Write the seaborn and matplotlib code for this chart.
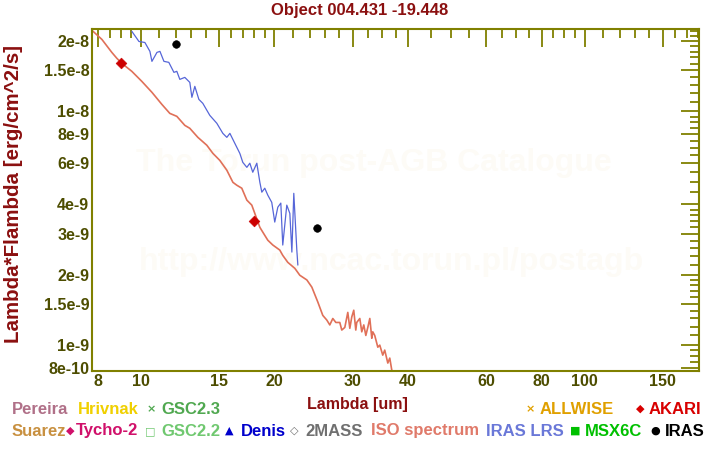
import matplotlib
matplotlib.use('Agg')
import matplotlib.pyplot as plt
import seaborn as sns
import pandas as pd

# ISO spectrum (um, erg/cm^2/s)
iso_wave = [7.76, 8.17, 8.60, 8.83, 9.06, 9.54, 10.05, 10.59, 11.15, 11.62, 12.05, 12.56,
            12.89, 13.44, 14.08, 14.53, 15.06, 15.62, 16.12, 16.45, 16.88, 17.33, 17.78,
            18.06, 18.54, 18.83, 19.32, 19.83, 20.56, 20.88, 21.43, 22.23, 22.81, 23.66,
            24.28, 25.04, 25.70, 26.24, 26.65, 27.07, 27.50, 28.07, 28.36, 28.81, 29.26,
            29.57, 29.87, 30.18, 30.50, 30.65, 31.14, 31.46, 31.79, 32.13, 32.46, 32.80,
            33.14, 33.31, 33.65, 34.19, 34.54, 35.08, 35.44, 36.01, 36.38, 36.76, 37.2]
iso_flux = [2.22e-8, 2.03e-8, 1.787e-8, 1.685e-8, 1.604e-8, 1.483e-8, 1.343e-8, 1.206e-8,
            1.071e-8, 9.80e-9, 9.52e-9, 8.71e-9, 8.46e-9, 7.74e-9, 7.16e-9, 6.61e-9, 6.17e-9,
            5.60e-9, 4.97e-9, 4.83e-9, 4.69e-9, 4.17e-9, 3.97e-9, 3.66e-9, 3.19e-9, 3.04e-9,
            2.81e-9, 2.68e-9, 2.55e-9, 2.42e-9, 2.26e-9, 2.13e-9, 1.99e-9, 1.90e-9, 1.77e-9,
            1.53e-9, 1.34e-9, 1.28e-9, 1.22e-9, 1.30e-9, 1.25e-9, 1.25e-9, 1.16e-9, 1.19e-9,
            1.38e-9, 1.18e-9, 1.32e-9, 1.41e-9, 1.16e-9, 1.25e-9, 1.30e-9, 1.14e-9, 1.22e-9,
            1.10e-9, 1.19e-9, 1.30e-9, 1.07e-9, 1.14e-9, 1.10e-9, 0.98e-9, 1.00e-9, 0.906e-9,
            0.952e-9, 0.838e-9, 0.880e-9, 0.782e-9, 0.76e-9]

# IRAS LRS spectrum
lrs_wave = [9.54, 9.90, 10.21, 10.48, 10.59, 10.87, 11.04, 11.27, 11.56, 11.87, 12.05, 12.24,
            12.56, 12.89, 13.03, 13.23, 13.51, 13.79, 14.30, 14.83, 15.30, 15.62, 15.87, 16.28,
            16.71, 16.97, 17.33, 17.60, 17.87, 18.25, 18.54, 18.73, 19.02, 19.32, 19.72, 20.03,
            20.35, 20.67, 20.88, 21.32, 21.66, 21.89, 22.11, 22.46, 22.58]
lrs_flux = [2.20e-8, 1.99e-8, 1.97e-8, 1.805e-8, 1.636e-8, 1.787e-8, 1.805e-8, 1.636e-8,
            1.620e-8, 1.468e-8, 1.483e-8, 1.370e-8, 1.397e-8, 1.330e-8, 1.148e-8, 1.279e-8,
            1.125e-8, 1.082e-8, 9.61e-9, 8.89e-9, 8.05e-9, 7.74e-9, 8.05e-9, 7.30e-9, 6.61e-9,
            6.05e-9, 5.76e-9, 6.00e-9, 5.49e-9, 6.00e-9, 4.97e-9, 4.51e-9, 4.69e-9, 4.38e-9,
            4.08e-9, 3.36e-9, 3.89e-9, 4.05e-9, 2.68e-9, 3.97e-9, 3.66e-9, 2.50e-9, 4.46e-9,
            2.55e-9, 2.20e-9]

akari_wave = [9.0, 18.0]
akari_flux = [1.61e-8, 3.41e-9]
iras_wave = [12.0, 25.0]
iras_flux = [1.94e-8, 3.18e-9]

xticks = [8, 10, 15, 20, 30, 40, 60, 80, 100, 150]
xtick_labels = ['8', '10', '15', '20', '30', '40', '60', '80', '100', '150']
xminor = [8.5, 9, 9.5, 11, 12, 13, 14, 16, 17, 18, 19, 22, 24, 26, 28, 32.5, 35, 37.5,
          45, 50, 55, 65, 70, 75, 85, 90, 95, 110, 120, 130, 140, 160, 170, 180]
yticks = [8e-10, 1e-9, 1.5e-9, 2e-9, 3e-9, 4e-9, 6e-9, 8e-9, 1e-8, 1.5e-8, 2e-8]
ytick_labels = ['8e-10', '1e-9', '1.5e-9', '2e-9', '3e-9', '4e-9', '6e-9', '8e-9',
                '1e-8', '1.5e-8', '2e-8']
yminor = [8.5e-10, 9e-10, 9.5e-10, 1.1e-9, 1.2e-9, 1.3e-9, 1.4e-9, 1.6e-9, 1.7e-9, 1.8e-9,
          1.9e-9, 2.2e-9, 2.4e-9, 2.6e-9, 2.8e-9, 3.2e-9, 3.4e-9, 3.6e-9, 3.8e-9, 4.5e-9,
          5e-9, 5.5e-9, 6.5e-9, 7e-9, 7.5e-9, 8.5e-9, 9e-9, 9.5e-9, 1.1e-8, 1.2e-8, 1.3e-8,
          1.4e-8, 1.6e-8, 1.7e-8, 1.8e-8, 1.9e-8, 2.1e-8, 2.2e-8]

# legend text entries: (symbol, label, colour)
legend_row1 = [('', 'Pereira', '#b07088'), ('', 'Hrivnak', '#f0d000'),
               ('×', 'GSC2.3', '#50a850'), ('×', 'ALLWISE', '#e0a000'),
               ('◆', 'AKARI', '#d80000')]
legend_row2 = [('', 'Suarez', '#c89040'), ('◆', 'Tycho-2', '#d0106a'),
               ('□', 'GSC2.2', '#70c870'), ('▲', 'Denis', '#0000cc'),
               ('◇', '2MASS', '#707070'), ('', 'ISO spectrum', '#e07a6a'),
               ('', 'IRAS LRS', '#6a78d8'), ('■', 'MSX6C', '#00c000'),
               ('●', 'IRAS', '#000000')]
# layout: (symbol centre x, label left x) in pixels
row1_x = [(0, 12), (0, 78), (151, 161), (530, 540), (640, 649)]
row2_x = [(0, 12), (70, 76), (150, 161), (229, 241), (294, 305), (0, 371),
          (0, 486), (575, 585), (655, 665)]

sns.set_style('white')
plt.rcParams['font.family'] = ['Liberation Sans', 'DejaVu Sans']
plt.rcParams['font.weight'] = 'bold'

olive = '#808000'
ticktxt = '#4d4d00'
darkred = '#8b1010'

fig = plt.figure(figsize=(7.2, 4.5), dpi=100)
W, H = 720, 450
ax = fig.add_axes([92 / W, 1 - 371 / H, (699 - 92) / W, (371 - 29) / H])

iso = pd.DataFrame({'wave': iso_wave, 'flux': iso_flux})
lrs = pd.DataFrame({'wave': lrs_wave, 'flux': lrs_flux})
sns.lineplot(data=iso, x='wave', y='flux', ax=ax, color='#e07058', lw=1.2,
             sort=False, estimator=None)
sns.lineplot(data=lrs, x='wave', y='flux', ax=ax, color='#5666d8', lw=0.9,
             sort=False, estimator=None)
sns.scatterplot(x=akari_wave, y=akari_flux, ax=ax, marker='D', s=30, color='#cc0000',
                edgecolor='#cc0000', zorder=5)
sns.scatterplot(x=iras_wave, y=iras_flux, ax=ax, marker='o', s=30, color='black',
                edgecolor='black', zorder=5)

ax.set_xscale('log')
ax.set_yscale('log')
ax.set_xlim(7.76, 181)
ax.set_ylim(7.75e-10, 2.25e-8)

ax.xaxis.set_major_locator(plt.FixedLocator(xticks))
ax.xaxis.set_major_formatter(plt.FixedFormatter(xtick_labels))
ax.xaxis.set_minor_locator(plt.FixedLocator(xminor))
ax.xaxis.set_minor_formatter(plt.NullFormatter())
ax.yaxis.set_major_locator(plt.FixedLocator(yticks))
ax.yaxis.set_major_formatter(plt.FixedFormatter(ytick_labels))
ax.yaxis.set_minor_locator(plt.FixedLocator(yminor))
ax.yaxis.set_minor_formatter(plt.NullFormatter())

ax.tick_params(which='both', direction='in', top=True, right=True, color=olive,
               width=1.3, labelcolor=ticktxt, labelsize=11.5, pad=2)
ax.tick_params(which='major', length=13)
ax.tick_params(which='minor', length=6.5)
for lab in ax.get_xticklabels() + ax.get_yticklabels():
    lab.set_fontweight('bold')
for sp in ax.spines.values():
    sp.set_color(olive)
    sp.set_linewidth(1.5)
ax.set_xlabel('')
ax.set_ylabel('')

# faint watermark
ax.text(0.465, 1 - (163 - 29) / 342, 'The Torun post-AGB Catalogue', transform=ax.transAxes,
        ha='center', va='center', fontsize=23, fontweight='bold', color='#fdfbf6', zorder=0)
ax.text(0.493, 1 - (262 - 29) / 342, 'http://www.ncac.torun.pl/postagb', transform=ax.transAxes,
        ha='center', va='center', fontsize=23, fontweight='bold', color='#fdfbf6', zorder=0)

fig.text(0.5, 1 - 11 / H, 'Object 004.431 -19.448', ha='center', va='center',
         fontsize=12, fontweight='bold', color=darkred)
fig.text(14 / W, 1 - 194 / H, 'Lambda*Flambda [erg/cm^2/s]', ha='center', va='center',
         rotation=90, fontsize=14.8, fontweight='bold', color=darkred)
fig.text(357 / W, 1 - 405 / H, 'Lambda [um]', ha='center', va='center',
         fontsize=11.5, fontweight='bold', color=darkred)


def draw_row(entries, xs, y):
    for (sym, label, col), (sx, lx) in zip(entries, xs):
        if sym:
            fig.text(sx / W, 1 - y / H, sym, ha='center', va='center', fontsize=8,
                     color=col, family=['DejaVu Sans'])
        fig.text(lx / W, 1 - y / H, label, ha='left', va='center', fontsize=12,
                 fontweight='bold', color=col)


draw_row(legend_row1, row1_x, 409)
draw_row(legend_row2, row2_x, 431)

fig.savefig('out.png', dpi=100, facecolor='white')
